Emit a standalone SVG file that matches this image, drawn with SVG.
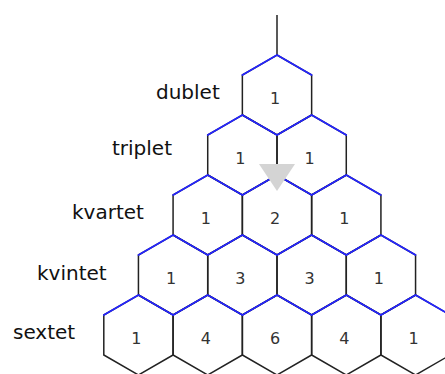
<svg xmlns="http://www.w3.org/2000/svg" xmlns:xlink="http://www.w3.org/1999/xlink" width="445" height="374" viewBox="0 0 445 374">
<style>
.hex{fill:none;stroke:#222;stroke-width:1.5;stroke-linejoin:miter}
.top{fill:none;stroke:#2424ff;stroke-width:1.7;stroke-linecap:round}
.num{font-family:"DejaVu Sans",sans-serif;font-size:16px;fill:#333;text-anchor:middle}
.lbl{font-family:"DejaVu Sans",sans-serif;font-size:20px;fill:#111}
</style>
<defs>
<polygon id="h" points="0,-40 34.64,-20 34.64,20 0,40 -34.64,20 -34.64,-20"/>
<path id="t" d="M-34.64,-20 L0,-40 L34.64,-20"/>
</defs>
<rect width="445" height="374" fill="#fff"/>
<g id="labels">
<text class="lbl" x="156" y="99">dublet</text>
<text class="lbl" x="112" y="155">triplet</text>
<text class="lbl" x="72" y="219">kvartet</text>
<text class="lbl" x="37" y="280">kvintet</text>
<text class="lbl" x="13" y="339">sextet</text>
</g>
<g id="n1-1" transform="translate(277,95)"><use href="#h" class="hex"/><text class="num" x="-2" y="9">1</text></g>
<g id="n2-1" transform="translate(242.36,155)"><use href="#h" class="hex"/><text class="num" x="-2" y="9">1</text></g>
<g id="n2-2" transform="translate(311.64,155)"><use href="#h" class="hex"/><text class="num" x="-2" y="9">1</text></g>
<g id="n3-1" transform="translate(207.72,215)"><use href="#h" class="hex"/><text class="num" x="-2" y="9">1</text></g>
<g id="n3-2" transform="translate(277,215)"><use href="#h" class="hex"/><text class="num" x="-2" y="9">2</text></g>
<g id="n3-3" transform="translate(346.28,215)"><use href="#h" class="hex"/><text class="num" x="-2" y="9">1</text></g>
<g id="n4-1" transform="translate(173.08,275)"><use href="#h" class="hex"/><text class="num" x="-2" y="9">1</text></g>
<g id="n4-2" transform="translate(242.36,275)"><use href="#h" class="hex"/><text class="num" x="-2" y="9">3</text></g>
<g id="n4-3" transform="translate(311.64,275)"><use href="#h" class="hex"/><text class="num" x="-2" y="9">3</text></g>
<g id="n4-4" transform="translate(380.92,275)"><use href="#h" class="hex"/><text class="num" x="-2" y="9">1</text></g>
<g id="n5-1" transform="translate(138.44,335)"><use href="#h" class="hex"/><text class="num" x="-2" y="9">1</text></g>
<g id="n5-2" transform="translate(207.72,335)"><use href="#h" class="hex"/><text class="num" x="-2" y="9">4</text></g>
<g id="n5-3" transform="translate(277,335)"><use href="#h" class="hex"/><text class="num" x="-2" y="9">6</text></g>
<g id="n5-4" transform="translate(346.28,335)"><use href="#h" class="hex"/><text class="num" x="-2" y="9">4</text></g>
<g id="n5-5" transform="translate(415.56,335)"><use href="#h" class="hex"/><text class="num" x="-2" y="9">1</text></g>
<g id="connectors">
<line x1="277" y1="15" x2="277" y2="55" stroke="#222" stroke-width="1.5"/>
<use href="#t" class="top" transform="translate(277,95)"/>
<use href="#t" class="top" transform="translate(242.36,155)"/>
<use href="#t" class="top" transform="translate(311.64,155)"/>
<use href="#t" class="top" transform="translate(207.72,215)"/>
<use href="#t" class="top" transform="translate(277,215)"/>
<use href="#t" class="top" transform="translate(346.28,215)"/>
<use href="#t" class="top" transform="translate(173.08,275)"/>
<use href="#t" class="top" transform="translate(242.36,275)"/>
<use href="#t" class="top" transform="translate(311.64,275)"/>
<use href="#t" class="top" transform="translate(380.92,275)"/>
<use href="#t" class="top" transform="translate(138.44,335)"/>
<use href="#t" class="top" transform="translate(207.72,335)"/>
<use href="#t" class="top" transform="translate(277,335)"/>
<use href="#t" class="top" transform="translate(346.28,335)"/>
<use href="#t" class="top" transform="translate(415.56,335)"/>
<polygon points="259,164 295,164 277,191" fill="#d4d4d4"/>
</g>
</svg>
